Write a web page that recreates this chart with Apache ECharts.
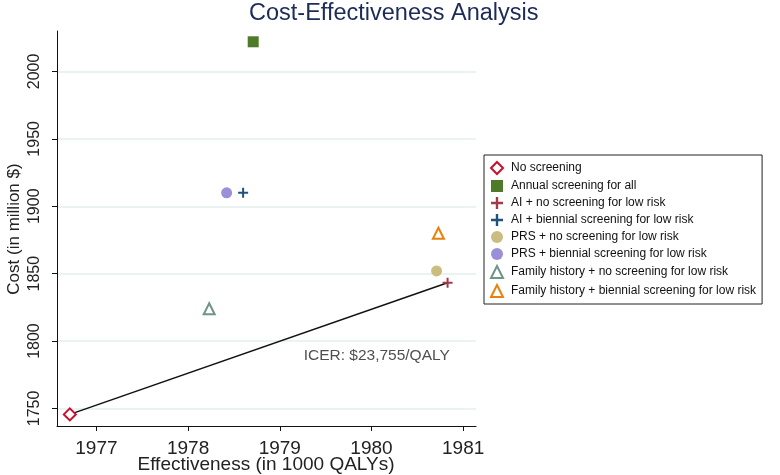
<!DOCTYPE html>
<html>
<head>
<meta charset="utf-8">
<script src="https://cdn.jsdelivr.net/npm/echarts@6/dist/echarts.min.js"></script>
<style>
  html, body { margin: 0; padding: 0; background: #fff; }
  #chart { width: 780px; height: 475px; }
</style>
</head>
<body>
<div id="chart"></div>
<script>
// 策略名称
const strategies = [
  'No screening',
  'Annual screening for all',
  'AI + no screening for low risk',
  'AI + biennial screening for low risk',
  'PRS + no screening for low risk',
  'PRS + biennial screening for low risk',
  'Family history + no screening for low risk',
  'Family history + biennial screening for low risk'
];
// 效果 (1000 QALYs) 和 成本 (百万美元)
const effectiveness = [1976.71, 1978.71, 1980.83, 1978.60, 1980.71, 1978.42, 1978.23, 1980.73];
const cost = [1745.6, 2022, 1843.3, 1910, 1852, 1910, 1824, 1880];
// 刻度
const xTicks = [1977, 1978, 1979, 1980, 1981];
const yTicks = [1750, 1800, 1850, 1900, 1950, 2000];
// 轴标题
const xName = 'Effectiveness (in 1000 QALYs)';
const yName = 'Cost (in million $)';
// ICER 标注
const icerText = 'ICER: $23,755/QALY';
const icerPos = [1979.26, 1789];

const plus = 'path://M4,0L6,0L6,4L10,4L10,6L6,6L6,10L4,10L4,6L0,6L0,4L4,4Z';
// 每个策略的样式
const styles = [
  { symbol: 'diamond', size: 12, itemStyle: { color: '#fff', borderColor: '#c8102e', borderWidth: 2, opacity: 1 } },
  { symbol: 'rect', size: 11, itemStyle: { color: '#4f7a2a', opacity: 1 } },
  { symbol: plus, size: 10, itemStyle: { color: '#a33a4c', opacity: 1 } },
  { symbol: plus, size: 10, itemStyle: { color: '#1f527f', opacity: 1 } },
  { symbol: 'circle', size: 11, itemStyle: { color: '#cbbd80', opacity: 1 } },
  { symbol: 'circle', size: 11, itemStyle: { color: '#9a90d8', opacity: 1 } },
  { symbol: 'triangle', size: 11, itemStyle: { color: '#fff', borderColor: '#6f958a', borderWidth: 2, opacity: 1 } },
  { symbol: 'triangle', size: 11, itemStyle: { color: '#fff', borderColor: '#e8820c', borderWidth: 2, opacity: 1 } }
];

const font = 'Liberation Sans, Arial, sans-serif';

const series = [
  {
    // 连线: No screening -> AI + no screening
    type: 'line',
    name: 'frontier',
    data: [[effectiveness[0], cost[0]], [effectiveness[2], cost[2]]],
    showSymbol: false,
    symbol: 'none',
    lineStyle: { color: '#111', width: 1.5 },
    z: 1,
    silent: true
  },
  {
    type: 'scatter',
    name: 'icer',
    data: [icerPos],
    symbolSize: 0,
    label: {
      show: true,
      position: 'right',
      distance: 0,
      formatter: icerText,
      fontFamily: font,
      fontSize: 15.5,
      color: '#222'
    },
    silent: true
  }
];
strategies.forEach((name, i) => {
  series.push({
    type: 'scatter',
    name: name,
    data: [[effectiveness[i], cost[i]]],
    symbol: styles[i].symbol,
    symbolSize: styles[i].size,
    itemStyle: styles[i].itemStyle,
    z: 3
  });
});

const chart = echarts.init(document.getElementById('chart'));
chart.setOption({
  animation: false,
  title: {
    text: 'Cost-Effectiveness Analysis',
    left: 249,
    top: 2,
    padding: 0,
    textStyle: { fontFamily: font, fontSize: 23.5, fontWeight: 'normal', color: '#1c2b57' }
  },
  // 轴标题用 graphic 文本放置
  graphic: [
    {
      type: 'text',
      x: 266,
      y: 465,
      style: { text: xName, font: '19px ' + font, fill: '#222', align: 'center', verticalAlign: 'middle' }
    },
    {
      type: 'text',
      x: 14,
      y: 229,
      rotation: Math.PI / 2,
      style: { text: yName, font: '17px ' + font, fill: '#222', align: 'center', verticalAlign: 'middle' }
    }
  ],
  legend: {
    data: strategies,
    orient: 'vertical',
    left: 484,
    top: 155,
    padding: [6, 6, 6, 6],
    borderColor: '#222',
    borderWidth: 1,
    itemWidth: 12,
    itemHeight: 12,
    itemGap: 5,
    textStyle: { fontFamily: font, fontSize: 12, color: '#111', lineHeight: 12, padding: [0, 0, 0, 3] }
  },
  grid: { left: 57, right: 304, top: 31, bottom: 49, containLabel: false, outerBoundsMode: 'none' },
  xAxis: {
    type: 'value',
    min: 1976.57,
    max: 1981.14,
    axisLine: { lineStyle: { color: '#111', width: 1 } },
    axisTick: { show: true, length: 5, customValues: xTicks, lineStyle: { color: '#111' } },
    axisLabel: { customValues: xTicks, formatter: v => String(v), margin: 13, fontFamily: font, fontSize: 19, color: '#222' },
    splitLine: { show: false }
  },
  yAxis: {
    type: 'value',
    min: 1737,
    max: 2030,
    axisLine: { show: true, lineStyle: { color: '#111', width: 1 } },
    axisTick: { show: true, length: 5, customValues: yTicks, lineStyle: { color: '#111' } },
    axisLabel: { customValues: yTicks, formatter: v => String(v), rotate: 90, margin: 14, fontFamily: font, fontSize: 16, color: '#222' },
    splitLine: { show: true, lineStyle: { color: '#e5eeee', width: 1.5 } }
  },
  series: series
});
</script>
</body>
</html>
